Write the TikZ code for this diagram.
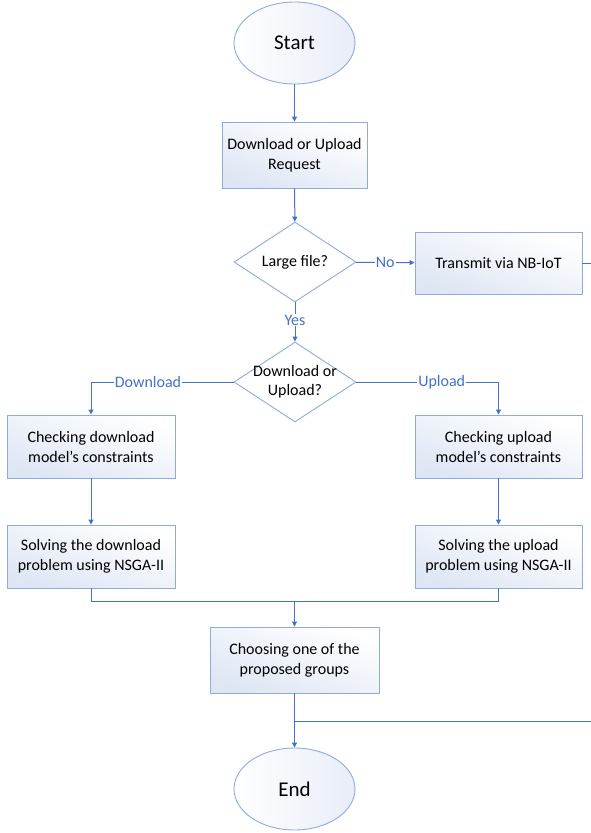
\documentclass[tikz,border=0pt]{standalone}
\usepackage{fontspec}
\setmainfont{Carlito}
\usetikzlibrary{shapes.geometric,arrows.meta}
\definecolor{lineblue}{RGB}{68,114,196}
\definecolor{edgeblue}{RGB}{143,170,220}
\definecolor{fillblue}{RGB}{222,230,244}
\definecolor{ellfill}{RGB}{232,237,248}
\tikzset{
  x=1pt,y=-1pt,
  procbox/.style={draw=edgeblue,line width=0.9pt,rectangle,top color=white,bottom color=fillblue,
    shading angle=-20,align=center,font=\fontsize{16}{20}\selectfont,inner sep=0pt},
  term/.style={draw=edgeblue,line width=0.9pt,ellipse,left color=white,right color=ellfill,
    minimum width=121pt,minimum height=82pt,inner sep=0pt,font=\fontsize{21}{24}\selectfont},
  decision/.style={draw=edgeblue,line width=0.9pt,diamond,fill=white,minimum width=122pt,minimum height=80pt,
    inner sep=0pt,aspect=1.5},
  dtext/.style={align=center,inner sep=0pt,font=\fontsize{16}{19}\selectfont},
  conn/.style={draw=lineblue,line width=1pt},
  arr/.style={conn,-{Triangle[length=5pt,width=5pt]}},
  lbl/.style={fill=white,text=lineblue,inner sep=1pt,font=\fontsize{16}{19}\selectfont},
}
\begin{document}
\begin{tikzpicture}
\useasboundingbox (0,0) rectangle (591,833);
\node[term] (start) at (294.5,43) {Start};
\node[procbox,minimum width=145pt,minimum height=66pt] (req) at (294.5,155) {Download or Upload\\Request};
\node[decision] (large) at (295,262) {};
\node[dtext] (largeT) at (large.center) {Large file?};
\node[procbox,minimum width=167pt,minimum height=62pt] (nb) at (498.5,263) {Transmit via NB-IoT};
\node[decision] (dou) at (295,382) {};
\node[dtext] (douT) at (dou.center) {Download or\\Upload?};
\node[procbox,minimum width=168pt,minimum height=63pt] (cd) at (91,446.5) {Checking download\\model’s constraints};
\node[procbox,minimum width=168pt,minimum height=63pt] (sd) at (91,556.5) {Solving the download\\problem using NSGA-II};
\node[procbox,minimum width=167pt,minimum height=63pt] (cu) at (498.5,446.5) {Checking upload\\model’s constraints};
\node[procbox,minimum width=167pt,minimum height=63pt] (su) at (498.5,556.5) {Solving the upload\\problem using NSGA-II};
\node[procbox,minimum width=169pt,minimum height=66pt] (ch) at (294.5,660) {Choosing one of the\\proposed groups};
\node[term] (end) at (294.5,789) {End};
\coordinate (merge) at (294.5,601);
\coordinate (nbout) at (591,263);
\coordinate (split) at (294.5,721);
\coordinate (retout) at (591,721);

\draw[arr] (start) -- (req);
\draw[arr] (req) -- (large);
\draw[arr] (large) -- node[lbl] {No} (nb);
\draw[arr] (large) -- node[lbl,pos=0.45] {Yes} (dou);
\draw[arr] (dou.west) -- node[lbl,pos=0.6] {Download} (cd.north |- dou.west) -- (cd.north);
\draw[arr] (dou.east) -- node[lbl,pos=0.6] {Upload} (cu.north |- dou.east) -- (cu.north);
\draw[arr] (cd) -- (sd);
\draw[arr] (cu) -- (su);
\draw[conn] (sd.south) -- (sd.south |- merge) -- (su.south |- merge) -- (su.south);
\draw[arr] (merge) -- (ch);
\draw[arr] (ch) -- (end);
\draw[conn] (nb.east) -- (nbout);
\draw[conn] (split) -- (retout);
\end{tikzpicture}
\end{document}
